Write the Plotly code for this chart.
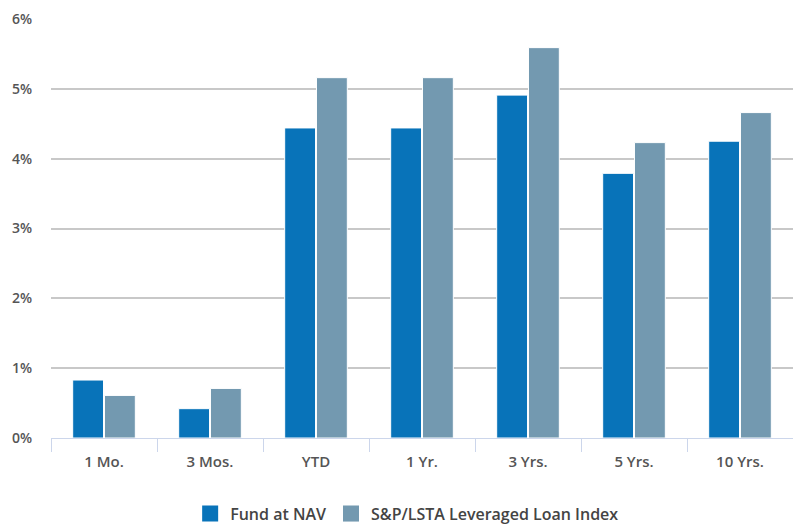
import plotly.graph_objects as go

periods = ["1 Mo.", "3 Mos.", "YTD", "1 Yr.", "3 Yrs.", "5 Yrs.", "10 Yrs."]
fund_nav = [0.83, 0.42, 4.44, 4.44, 4.91, 3.79, 4.25]
loan_index = [0.61, 0.71, 5.16, 5.16, 5.59, 4.23, 4.66]

series_names = ["Fund at NAV", "S&P/LSTA Leveraged Loan Index"]
series_colors = ["#0873b9", "#7399b0"]

FONT = "Open Sans"
TEXT = "#555555"

fig = go.Figure()
for name, values, color in zip(series_names, [fund_nav, loan_index], series_colors):
    fig.add_trace(go.Bar(
        x=periods, y=values, name=name, showlegend=False,
        marker=dict(color=color, line=dict(color="white", width=1)),
    ))
# legend-only entries with bigger square swatches
for name, color in zip(series_names, series_colors):
    fig.add_trace(go.Scatter(
        x=[None], y=[None], mode="markers", name=name,
        marker=dict(symbol="square", size=16, color=color),
    ))

fig.update_layout(
    width=793, height=524,
    margin=dict(l=51, r=0, t=19, b=86, autoexpand=False),
    paper_bgcolor="white", plot_bgcolor="white",
    barmode="group", bargap=0.4, bargroupgap=0.03,
    font=dict(family=FONT, size=14, color=TEXT, weight=600),
    legend=dict(
        orientation="h", x=0.48, xanchor="center", y=-0.14, yanchor="top",
        font=dict(size=16, color="#444444", weight=600),
        itemsizing="trace", traceorder="normal",
    ),
)
fig.update_xaxes(
    showline=True, linecolor="#ccd6eb", linewidth=1,
    ticks="outside", tickson="boundaries", ticklen=13, tickcolor="#ccd6eb",
    showgrid=False, automargin=False, ticklabelstandoff=10,
    tickfont=dict(size=15, color=TEXT),
)
fig.update_yaxes(
    range=[0, 6], dtick=1, ticksuffix="%",
    showgrid=True, gridcolor="#c8c8c8", gridwidth=1.5,
    zeroline=False, showline=False, automargin=False,
    ticklabelstandoff=18, tickfont=dict(size=14, color=TEXT),
)

# drop the browser's default 8px body margin so the figure sits at the corner
fig.write_html(
    "out.html",
    config={"displayModeBar": False},
    post_script="document.body.style.margin='0';",
)
